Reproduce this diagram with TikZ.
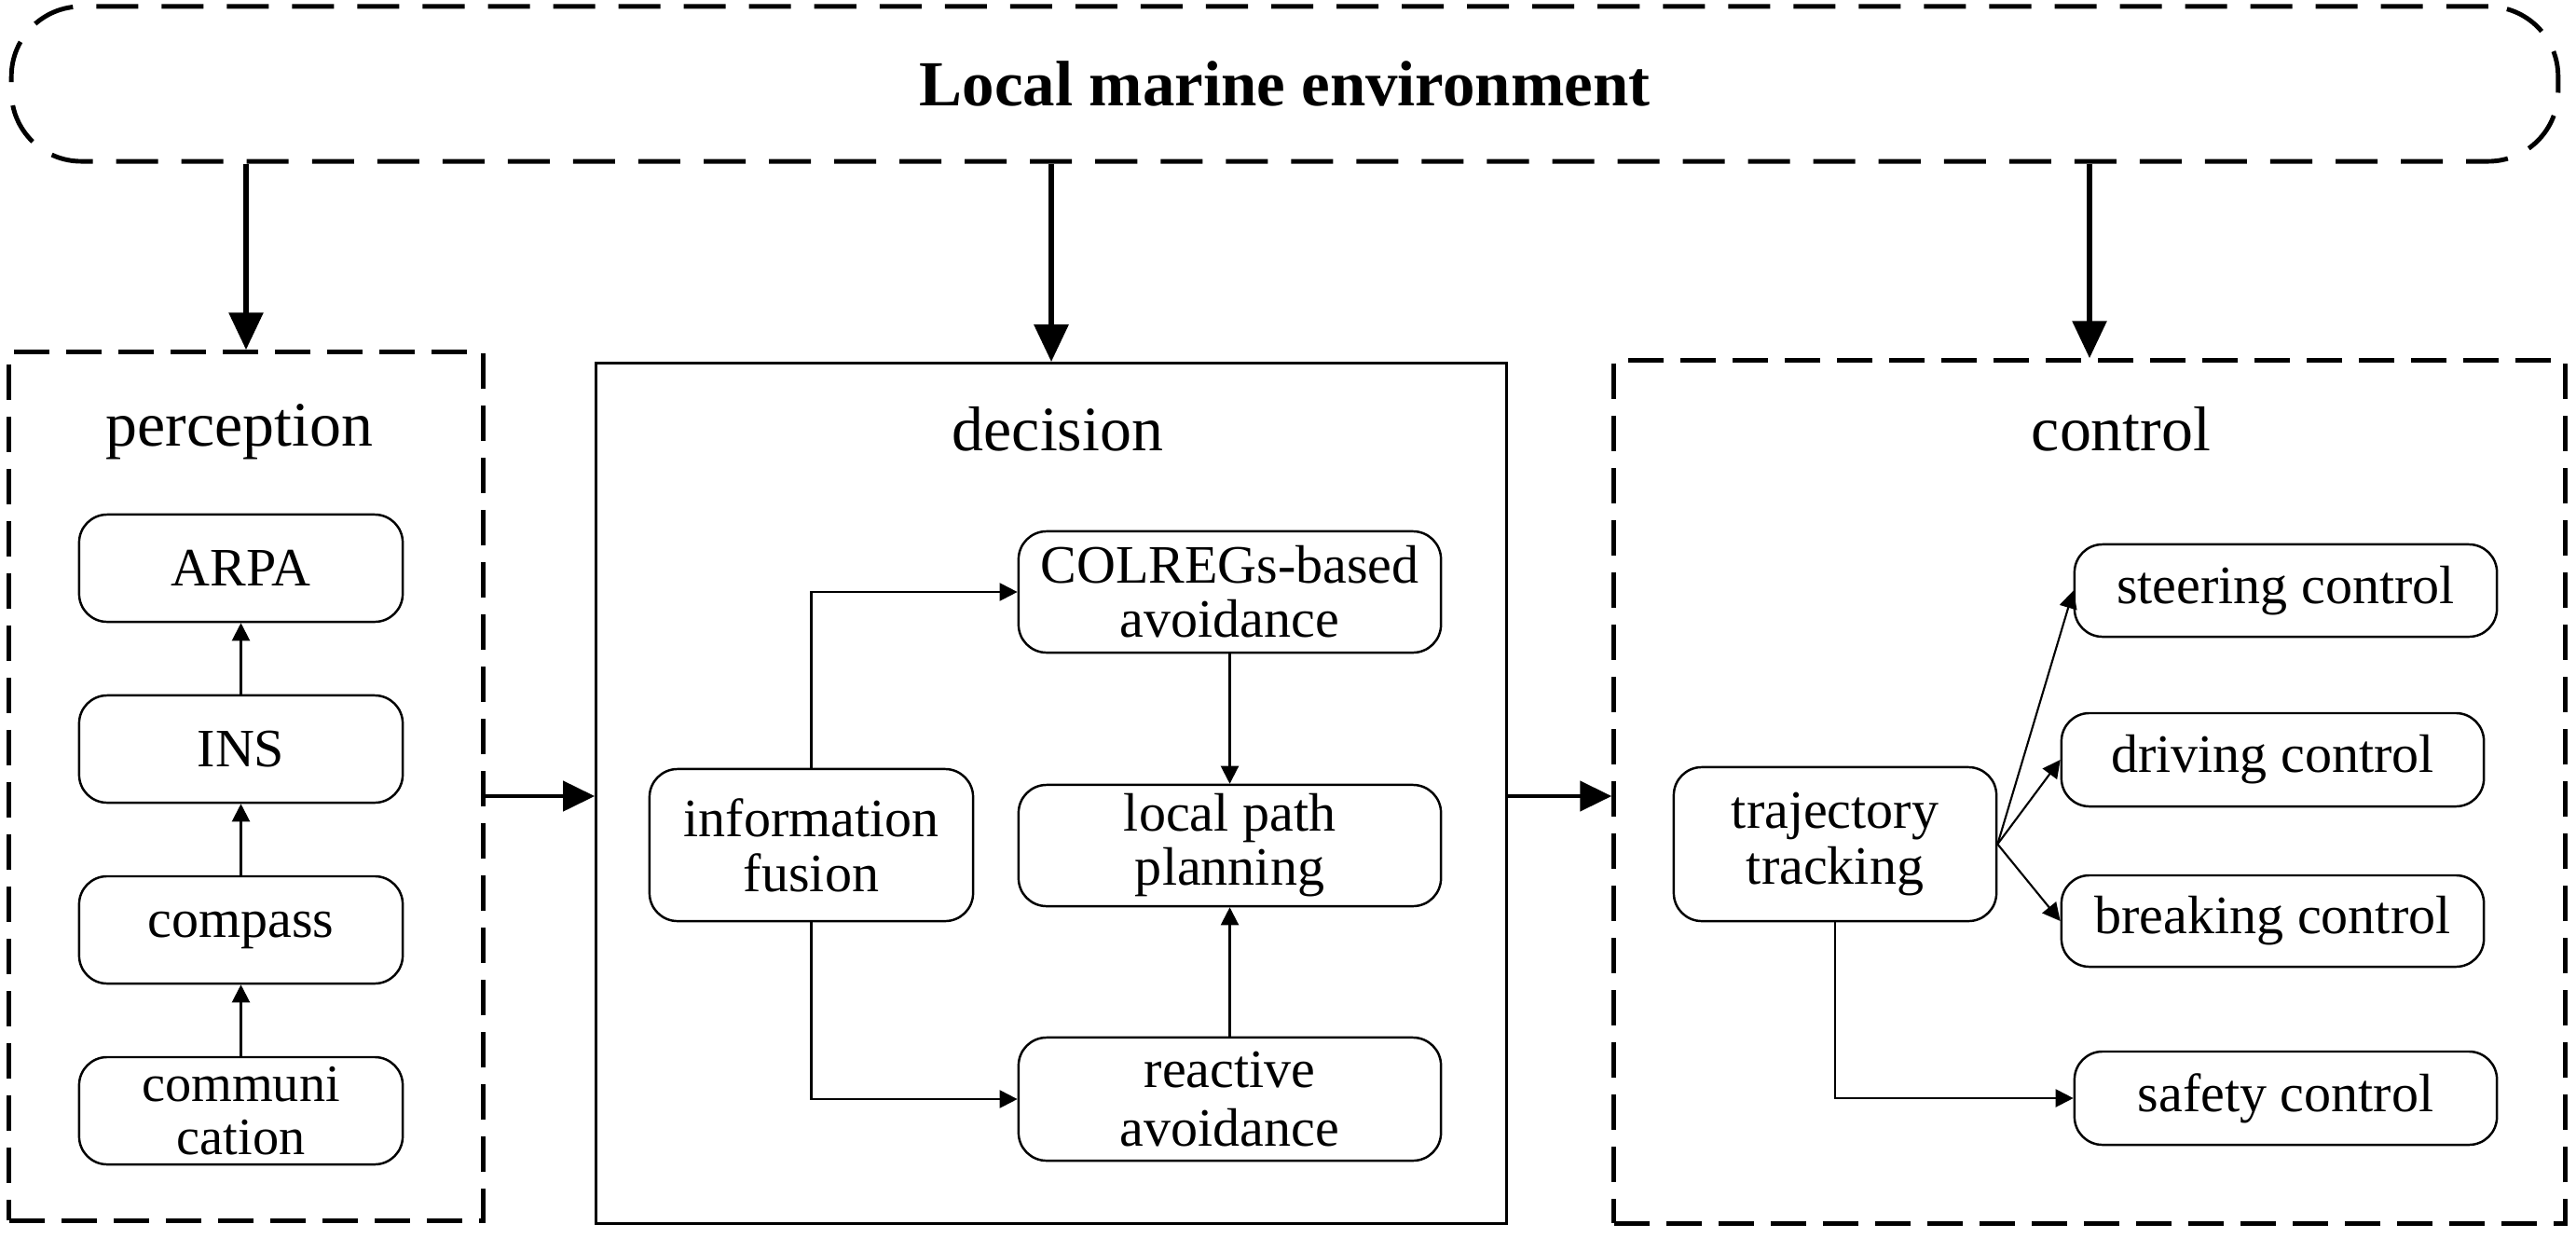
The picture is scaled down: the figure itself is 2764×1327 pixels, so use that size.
\documentclass[tikz,border=0pt]{standalone}
\usepackage{fontspec}
\setmainfont{Liberation Serif}
\usetikzlibrary{arrows.meta,calc}
\newcommand\mybfont{\fontsize{16.5}{16.8}\selectfont}
\newcommand\mytfont{\fontsize{19.3}{22}\selectfont}
\newcommand\myhfont{\fontsize{19.6}{22}\selectfont\bfseries}
\begin{document}
\begin{tikzpicture}[x=0.01cm,y=-0.01cm,
  box/.style={draw,line width=0.7pt,rounded corners=0.3cm,align=center,inner sep=0pt,font=\mybfont},
  dashregion/.style={draw,line width=1.4pt,dash pattern=on 0.38cm off 0.18cm,inner sep=0pt},
  solidregion/.style={draw,line width=0.9pt,inner sep=0pt},
  title/.style={font=\mytfont,inner sep=0pt},
  bigarrow/.style={line width=1.7pt,-{Triangle[length=0.4cm,width=0.36cm]}},
  midarrow/.style={line width=1.3pt,-{Triangle[length=0.34cm,width=0.32cm]}},
  smallarrow/.style={line width=0.6pt,-{Triangle[length=0.19cm,width=0.19cm]}}]
\useasboundingbox (0,0) rectangle (2764,1327);

% environment
\node[draw,line width=1.4pt,dash pattern=on 0.45cm off 0.25cm,rounded corners=0.75cm,
      minimum width=27.31cm,minimum height=1.66cm,inner sep=0pt,font=\myhfont]
      (env) at (1378.5,90) {Local marine environment};

% regions
\node[dashregion,minimum width=5.08cm,minimum height=9.31cm] (perc) at (264,843.5) {};
\node[solidregion,minimum width=9.76cm,minimum height=9.22cm] (dec) at (1128,851) {};
\node[dashregion,minimum width=10.20cm,minimum height=9.25cm] (ctrl) at (2242,849.5) {};

\node[title] (lperc) at (257,463) {perception};
\node[title] (ldec) at (1135,460) {decision};
\node[title] (lctrl) at (2276,460) {control};

% perception
\node[box,minimum width=3.47cm,minimum height=1.15cm] (arpa) at (258.5,609.5) {ARPA};
\node[box,minimum width=3.47cm,minimum height=1.15cm] (ins) at (258.5,803.5) {INS};
\node[box,minimum width=3.47cm,minimum height=1.15cm] (compass) at (258.5,997.5) {compass};
\node[box,minimum width=3.47cm,minimum height=1.15cm,font=\fontsize{16}{16}\selectfont] (comm) at (258.5,1191.5) {communi\\cation};

% decision
\node[box,minimum width=3.47cm,minimum height=1.63cm] (fusion) at (870.5,906.5) {information\\fusion};
\node[box,minimum width=4.53cm,minimum height=1.30cm,font=\fontsize{16.5}{16.5}\selectfont] (colregs) at (1319.5,635) {COLREGs-based\\avoidance};
\node[box,minimum width=4.53cm,minimum height=1.30cm,font=\fontsize{16.5}{16.5}\selectfont] (local) at (1319.5,907) {local path\\planning};
\node[box,minimum width=4.53cm,minimum height=1.32cm,font=\fontsize{16.5}{18}\selectfont] (reactive) at (1319.5,1179) {reactive\\avoidance};

% control
\node[box,minimum width=3.46cm,minimum height=1.65cm] (traj) at (1969,905.5) {trajectory\\tracking};
\node[box,minimum width=4.53cm,minimum height=0.99cm] (steer) at (2452.5,633.5) {steering control};
\node[box,minimum width=4.53cm,minimum height=1.00cm] (drive) at (2438.5,815) {driving control};
\node[box,minimum width=4.53cm,minimum height=0.98cm] (brake) at (2438.5,988) {breaking control};
\node[box,minimum width=4.53cm,minimum height=1.00cm] (safety) at (2452.5,1178) {safety control};

% top arrows
\draw[bigarrow] (env.south -| perc.north) -- (perc.north);
\draw[bigarrow] (env.south -| dec.north) -- (dec.north);
\draw[bigarrow] (env.south -| ctrl.north) -- (ctrl.north);

% between regions
\coordinate (midy) at (0,854);
\draw[midarrow] (perc.east |- midy) -- (dec.west |- midy);
\draw[midarrow] (dec.east |- midy) -- (ctrl.west |- midy);

% perception chain
\draw[smallarrow] (comm.north) -- (compass.south);
\draw[smallarrow] (compass.north) -- (ins.south);
\draw[smallarrow] (ins.north) -- (arpa.south);

% decision
\draw[smallarrow] (fusion.north) |- (colregs.west);
\draw[smallarrow] (fusion.south) |- (reactive.west);
\draw[smallarrow] (colregs.south) -- (local.north);
\draw[smallarrow] (reactive.north) -- (local.south);

% control
\draw[smallarrow] (traj.east) -- (steer.west);
\draw[smallarrow] (traj.east) -- (drive.west);
\draw[smallarrow] (traj.east) -- (brake.west);
\draw[smallarrow] (traj.south) |- (safety.west);
\end{tikzpicture}
\end{document}
